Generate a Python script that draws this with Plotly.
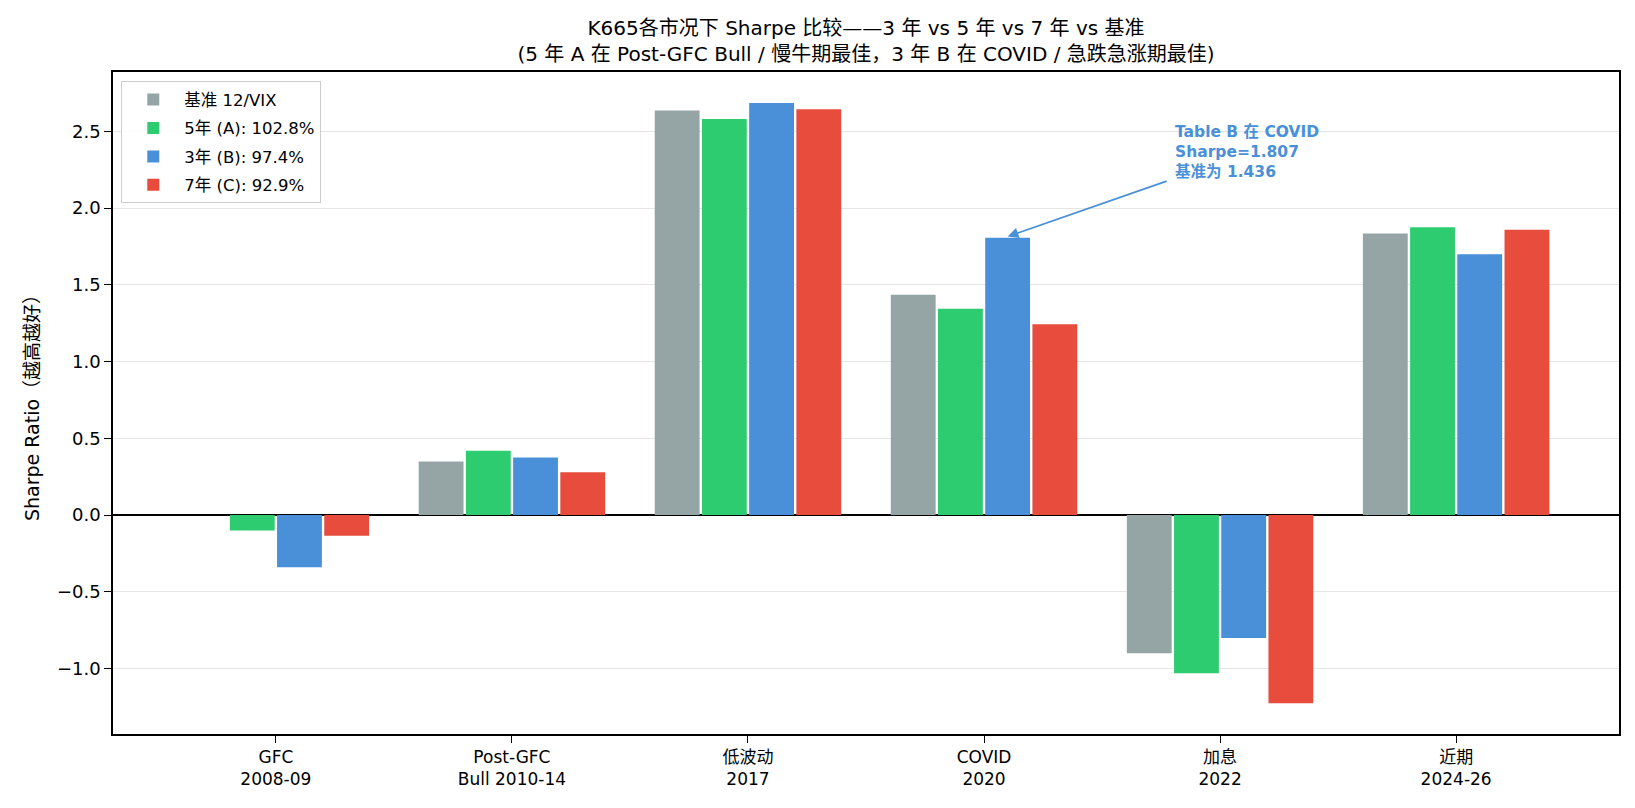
import plotly.graph_objects as go

categories = ["GFC<br>2008-09", "Post-GFC<br>Bull 2010-14", "低波动<br>2017", "COVID<br>2020", "加息<br>2022", "近期<br>2024-26"]
series_names = ["基准 12/VIX", "5年 (A): 102.8%", "3年 (B): 97.4%", "7年 (C): 92.9%"]
baseline = [None, 0.35, 2.636, 1.436, -0.90, 1.834]
five_y = [-0.10, 0.42, 2.58, 1.345, -1.03, 1.875]
three_y = [-0.34, 0.375, 2.685, 1.807, -0.80, 1.70]
seven_y = [-0.135, 0.28, 2.645, 1.243, -1.225, 1.86]
colors = ["#95a5a6", "#2ecc71", "#4a90d9", "#e74c3c"]

FONT = "DejaVu Sans, Noto Sans CJK SC, sans-serif"
xs = list(range(len(categories)))

fig = go.Figure()
for name, vals, col in zip(series_names, [baseline, five_y, three_y, seven_y], colors):
    fig.add_trace(go.Bar(x=xs, y=vals, name=name, legendgroup=name,
                         marker=dict(color=col, line=dict(width=0))))

fig.add_annotation(x=3.1, y=1.815, ax=3.78, ay=2.18, xref="x", yref="y", axref="x", ayref="y",
                   text="", showarrow=True, arrowhead=2, arrowsize=1.2, arrowwidth=1.8,
                   arrowcolor="#4a90d9")
fig.add_annotation(x=3.80, y=2.37, xref="x", yref="y", xanchor="left", yanchor="middle", align="left",
                   showarrow=False,
                   text="<b>Table B 在 COVID<br>Sharpe=1.807<br>基准为 1.436</b>",
                   font=dict(family=FONT, size=15.5, color="#4a90d9"))

fig.update_layout(
    width=1635, height=808,
    margin=dict(l=113, r=16, t=72, b=74),
    paper_bgcolor="white", plot_bgcolor="white",
    barmode="group", bargap=0.2, bargroupgap=0.05,
    font=dict(family=FONT, size=18, color="black"),
    title=dict(text="K665各市况下 Sharpe 比较——3 年 vs 5 年 vs 7 年 vs 基准<br>(5 年 A 在 Post-GFC Bull / 慢牛期最佳，3 年 B 在 COVID / 急跌急涨期最佳)",
               x=0.5, xref="paper", xanchor="center", y=1, yref="paper", yanchor="bottom",
               pad=dict(b=37), font=dict(family=FONT, size=20, color="black")),
    legend=dict(x=0.0055, y=0.986, xanchor="left", yanchor="top",
                bgcolor="rgba(255,255,255,0.85)", bordercolor="#cccccc", borderwidth=1,
                font=dict(family=FONT, size=16.5), tracegroupgap=4, itemwidth=52,
                itemsizing="constant"),
    showlegend=True,
)
fig.update_xaxes(range=[-0.69, 5.69], tickvals=xs, ticktext=categories, showgrid=False,
                 showline=True, linecolor="black", linewidth=1.5, mirror=True,
                 ticks="outside", ticklen=7, tickwidth=1.2, tickcolor="black",
                 tickfont=dict(family=FONT, size=17), zeroline=False)
fig.update_yaxes(range=[-1.426, 2.887], tickvals=[-1.0, -0.5, 0.0, 0.5, 1.0, 1.5, 2.0, 2.5],
                 tickformat=".1f", showgrid=True, gridcolor="#e6e6e6", gridwidth=1,
                 showline=True, linecolor="black", linewidth=1.5, mirror=True,
                 ticks="outside", ticklen=7, tickwidth=1.2, tickcolor="black",
                 tickfont=dict(family=FONT, size=18),
                 zeroline=True, zerolinecolor="black", zerolinewidth=1.6,
                 title=dict(text="Sharpe Ratio（越高越好）", font=dict(family=FONT, size=19), standoff=12))

fig.write_html("out.html")
